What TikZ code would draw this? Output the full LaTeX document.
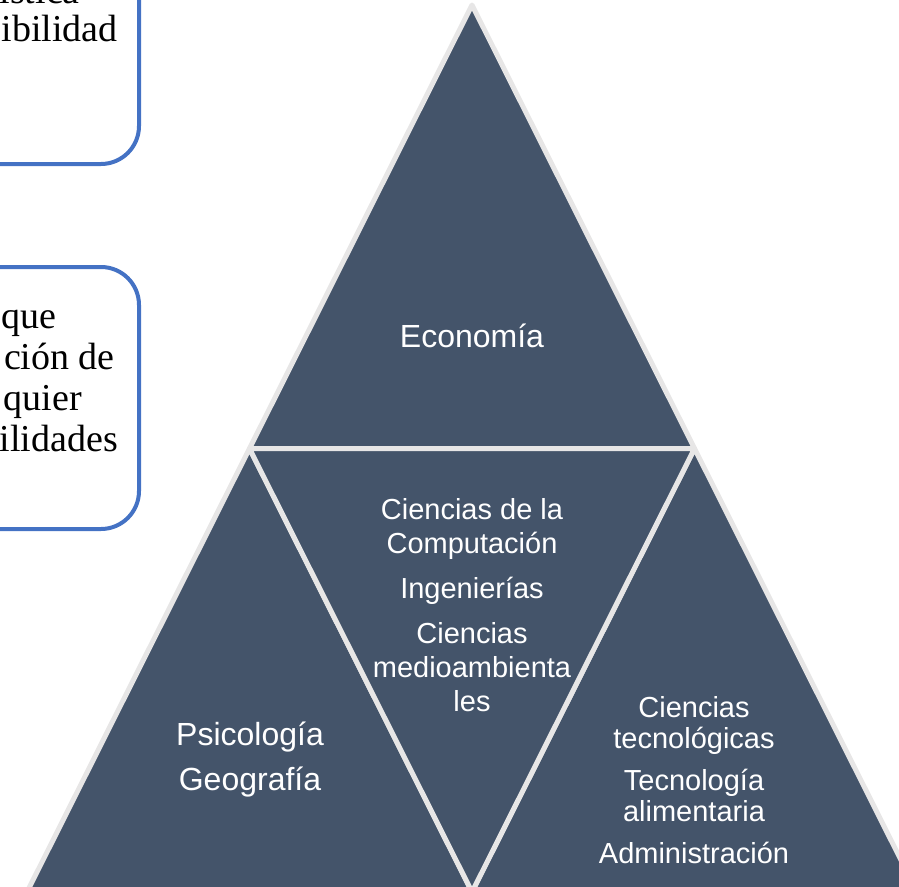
\documentclass[tikz,border=0pt]{standalone}
\usepackage{fontspec}
\setmainfont{Liberation Serif}
\newfontfamily\arialfont{Liberation Sans}
\usetikzlibrary{positioning}
\definecolor{slate}{HTML}{44546A}
\definecolor{rimgray}{HTML}{E7E6E6}
\definecolor{boxblue}{HTML}{4472C4}

\begin{document}
\begin{tikzpicture}[x=1pt,y=-1pt,
  piece/.style={fill=slate,draw=rimgray,line width=5pt,line join=round},
  bigtext/.style={text=white,font=\arialfont\fontsize{32}{34}\selectfont,align=center,inner sep=0pt},
  smalltext/.style={text=white,font=\arialfont\fontsize{29}{34}\selectfont,align=center,inner sep=0pt},
  tighttext/.style={smalltext,font=\arialfont\fontsize{29}{31}\selectfont},
  frame/.style={draw=boxblue,line width=4pt,rounded corners=38pt},
  frag/.style={anchor=base east,font=\fontsize{38}{41}\selectfont,inner sep=0pt}]
\useasboundingbox (0,0) rectangle (899,886);

% boxes cut at the left edge
\draw[frame] (-80,-60) -- (139,-60) -- (139,164) -- (-80,164);
\draw[frame] (-80,267) -- (139,267) -- (139,529) -- (-80,529);

\node[frag] (fa) at (80,3) {ística};
\node[frag] (fb) at (118,41) {ibilidad};
\node[frag] (fc) at (57,328) {que};
\node[frag] (fd) at (115,369) {ción de};
\node[frag] (fe) at (82,410) {quier};
\node[frag] (ff) at (118,451) {ilidades};

% pyramid
\coordinate (apex) at (472,5);
\coordinate (bl) at (27,892);
\coordinate (br) at (917,892);
\coordinate (ml) at (249.5,448.5);
\coordinate (mr) at (694.5,448.5);
\coordinate (mb) at (472,892);

\draw[piece] (apex) -- (mr) -- (ml) -- cycle;
\draw[piece] (ml) -- (mb) -- (bl) -- cycle;
\draw[piece] (mr) -- (br) -- (mb) -- cycle;
\draw[piece] (ml) -- (mr) -- (mb) -- cycle;

\node[bigtext] (econ) at (472,336) {Economía};
\node[bigtext] (left) at (250,760) {Psicología\\[11pt]Geografía};
\node[smalltext] (mid) at (472,605) {Ciencias de la\\Computación\\[11pt]Ingenierías\\[11pt]Ciencias\\medioambienta\\les};
\node[tighttext] (right) at (694,780) {Ciencias\\tecnológicas\\[11pt]Tecnología\\alimentaria\\[11pt]Administración};
\end{tikzpicture}
\end{document}
